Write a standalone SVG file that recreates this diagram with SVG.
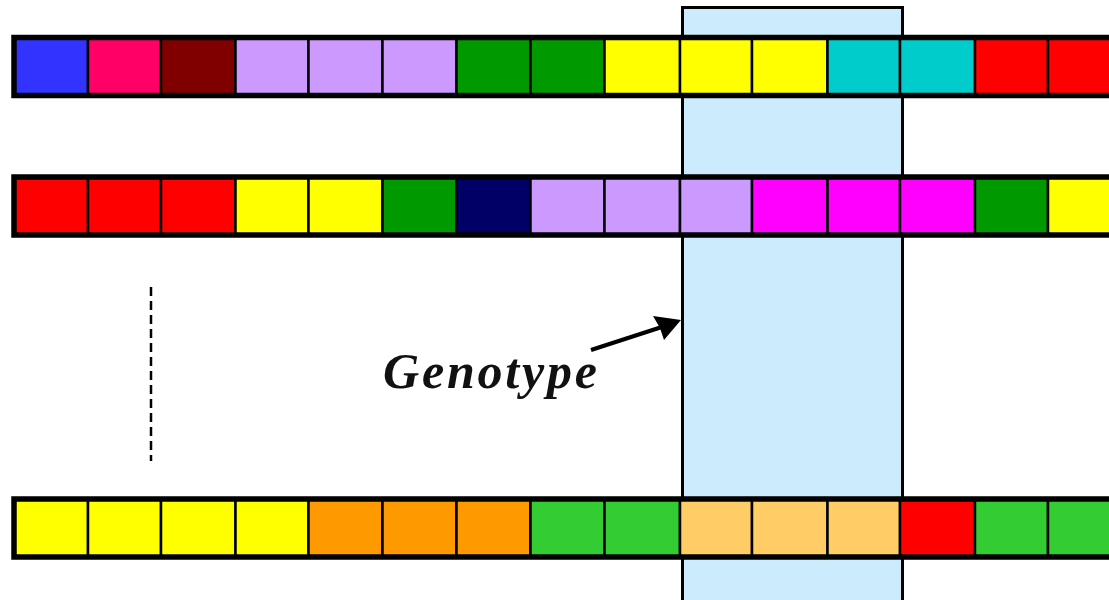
<svg xmlns="http://www.w3.org/2000/svg" width="1109" height="600" viewBox="0 0 1109 600">
<style>
.c{stroke:#000;stroke-width:2.5}
.frame{fill:none;stroke:#000;stroke-width:5.5}
.b{fill:#3333FF}.m{fill:#FF0066}.dr{fill:#800000}.l{fill:#CC99FF}.g{fill:#009900}.y{fill:#FFFF00}
.cy{fill:#00CCCC}.r{fill:#FF0000}.nv{fill:#000066}.mg{fill:#FF00FF}.o{fill:#FF9900}.lg{fill:#33CC33}.pe{fill:#FFCC66}
.lbl{font-family:"Liberation Serif","Times New Roman",serif;font-style:italic;font-weight:bold;font-size:50px;fill:#111}
</style>
<g id="genotype-column">
<rect x="682.5" y="7.5" width="220" height="600" fill="#CCEBFD" stroke="#000" stroke-width="3"/>
</g>
<g id="chromosome-1">
<rect class="c b" x="14" y="37.5" width="74" height="58"/>
<rect class="c m" x="88" y="37.5" width="73" height="58"/>
<rect class="c dr" x="161" y="37.5" width="74.5" height="58"/>
<rect class="c l" x="235.5" y="37.5" width="73" height="58"/>
<rect class="c l" x="308.5" y="37.5" width="74" height="58"/>
<rect class="c l" x="382.5" y="37.5" width="74" height="58"/>
<rect class="c g" x="456.5" y="37.5" width="74" height="58"/>
<rect class="c g" x="530.5" y="37.5" width="74" height="58"/>
<rect class="c y" x="604.5" y="37.5" width="75.5" height="58"/>
<rect class="c y" x="680" y="37.5" width="72" height="58"/>
<rect class="c y" x="752" y="37.5" width="75.5" height="58"/>
<rect class="c cy" x="827.5" y="37.5" width="72.5" height="58"/>
<rect class="c cy" x="900" y="37.5" width="75" height="58"/>
<rect class="c r" x="975" y="37.5" width="73" height="58"/>
<rect class="c r" x="1048" y="37.5" width="74" height="58"/>
<rect class="frame" x="14" y="37.5" width="1110" height="58"/>
</g>
<g id="chromosome-2">
<rect class="c r" x="14" y="177" width="74" height="58"/>
<rect class="c r" x="88" y="177" width="73" height="58"/>
<rect class="c r" x="161" y="177" width="74.5" height="58"/>
<rect class="c y" x="235.5" y="177" width="73" height="58"/>
<rect class="c y" x="308.5" y="177" width="74" height="58"/>
<rect class="c g" x="382.5" y="177" width="74" height="58"/>
<rect class="c nv" x="456.5" y="177" width="74" height="58"/>
<rect class="c l" x="530.5" y="177" width="74" height="58"/>
<rect class="c l" x="604.5" y="177" width="75.5" height="58"/>
<rect class="c l" x="680" y="177" width="72" height="58"/>
<rect class="c mg" x="752" y="177" width="75.5" height="58"/>
<rect class="c mg" x="827.5" y="177" width="72.5" height="58"/>
<rect class="c mg" x="900" y="177" width="75" height="58"/>
<rect class="c g" x="975" y="177" width="73" height="58"/>
<rect class="c y" x="1048" y="177" width="74" height="58"/>
<rect class="frame" x="14" y="177" width="1110" height="58"/>
</g>
<g id="chromosome-n">
<rect class="c y" x="14" y="499" width="74" height="58"/>
<rect class="c y" x="88" y="499" width="73" height="58"/>
<rect class="c y" x="161" y="499" width="74.5" height="58"/>
<rect class="c y" x="235.5" y="499" width="73" height="58"/>
<rect class="c o" x="308.5" y="499" width="74" height="58"/>
<rect class="c o" x="382.5" y="499" width="74" height="58"/>
<rect class="c o" x="456.5" y="499" width="74" height="58"/>
<rect class="c lg" x="530.5" y="499" width="74" height="58"/>
<rect class="c lg" x="604.5" y="499" width="75.5" height="58"/>
<rect class="c pe" x="680" y="499" width="72" height="58"/>
<rect class="c pe" x="752" y="499" width="75.5" height="58"/>
<rect class="c pe" x="827.5" y="499" width="72.5" height="58"/>
<rect class="c r" x="900" y="499" width="75" height="58"/>
<rect class="c lg" x="975" y="499" width="73" height="58"/>
<rect class="c lg" x="1048" y="499" width="74" height="58"/>
<rect class="frame" x="14" y="499" width="1110" height="58"/>
</g>
<g id="ellipsis">
<line x1="151" y1="287" x2="151" y2="461" stroke="#000" stroke-width="2.5" stroke-dasharray="9,5"/>
</g>
<g id="label">
<text class="lbl" x="383" y="388" textLength="214" lengthAdjust="spacing">Genotype</text>
</g>
<g id="connectors">
<line x1="591" y1="350" x2="668" y2="325" stroke="#000" stroke-width="4"/>
<polygon points="681,320 653,316 660,328 664,340" fill="#000"/>
</g>
</svg>
